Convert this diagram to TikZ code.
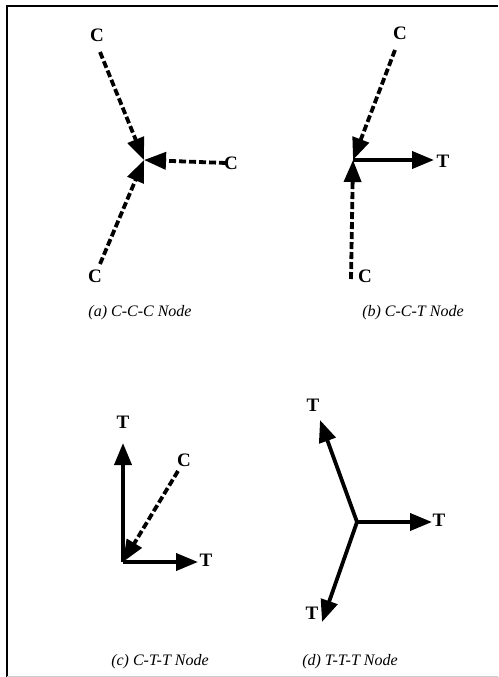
\documentclass[tikz,border=0pt]{standalone}
\usepackage{fontspec}
\setmainfont{Liberation Serif}
\usetikzlibrary{arrows.meta}
\usetikzlibrary{positioning}
\tikzset{
    comp/.style={draw=black, line width=3.8pt, dash pattern=on 7pt off 3pt,
        -{Triangle[length=22pt,width=17pt]}},
    tens/.style={draw=black, line width=3.8pt,
        -{Triangle[length=22pt,width=17pt]}},
    lab/.style={font=\bfseries\fontsize{19}{19}\selectfont, inner sep=0pt},
    caption/.style={font=\itshape\fontsize{16}{16}\selectfont, inner sep=0pt},
}

\begin{document}
\begin{tikzpicture}[x=1pt,y=-1pt]
\useasboundingbox (0,0) rectangle (498,677);
% frame
\draw[line width=2.2pt] (7,677) -- (7,6) -- (498,6);
\draw[gray!40, line width=0.8pt] (7,676) -- (498,676);

% (a) C-C-C
\coordinate (a0) at (144,160);
\coordinate (a1) at (100,52);
\coordinate (a2) at (226,163);
\coordinate (a3) at (100,264);
\node[lab] (ca1) at (97,35) {C};
\node[lab] (ca2) at (231,163) {C};
\node[lab] (ca3) at (95,276) {C};
\draw [comp] (a1)--(a0);
\draw [comp] (a2)--(a0);
\draw [comp] (a3)--(a0);
\node[caption] (capa) at (140,313) {(a) C-C-C Node};

% (b) C-C-T
\coordinate (b0) at (353,160);
\coordinate (b1) at (395,50);
\coordinate (b2) at (434,160);
\coordinate (b3) at (351,279);
\node[lab] (cb1) at (400,33) {C};
\node[lab] (tb2) at (443,161) {T};
\node[lab] (cb3) at (365,276) {C};
\draw [comp] (b1)--(b0);
\draw [tens] (b0)--(b2);
\draw [comp] (b3)--(b0);
\node[caption] (capb) at (413,313) {(b) C-C-T Node};

% (c) C-T-T
\coordinate (c0) at (123,562);
\coordinate (c1) at (123,443);
\coordinate (c2) at (198,562);
\coordinate (c3) at (178,471);
\node[lab] (tc1) at (123,422) {T};
\node[lab] (tc2) at (206,560) {T};
\node[lab] (cc3) at (184,460) {C};
\draw [tens] (c0)--(c1);
\draw [tens] (c0)--(c2);
\draw [comp] (c3)--(c0);
\node[caption] (capc) at (160,662) {(c) C-T-T Node};

% (d) T-T-T
\coordinate (d0) at (357,522);
\coordinate (d1) at (320,420);
\coordinate (d2) at (432,522);
\coordinate (d3) at (322,622);
\node[lab] (td1) at (313,405) {T};
\node[lab] (td2) at (439,520) {T};
\node[lab] (td3) at (312,613) {T};
\draw [tens] (d0)--(d1);
\draw [tens] (d0)--(d2);
\draw [tens] (d0)--(d3);
\node[caption] (capd) at (350,662) {(d) T-T-T Node};
\end{tikzpicture}
\end{document}
